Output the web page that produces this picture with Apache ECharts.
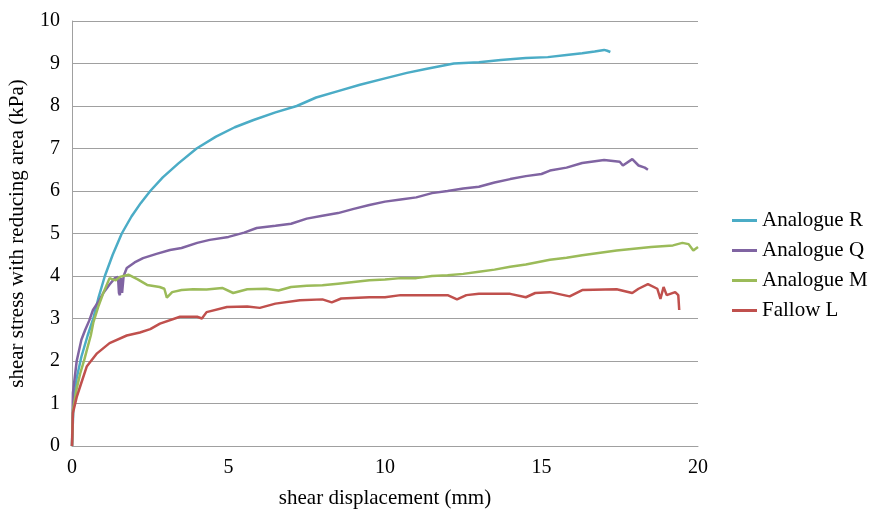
<!DOCTYPE html>
<html><head><meta charset="utf-8">
<script src="https://cdn.jsdelivr.net/npm/echarts@6/dist/echarts.min.js"></script>
<style>html,body{margin:0;padding:0;background:#fff}#c{width:870px;height:509px}</style>
</head><body><div id="c"></div>
<script>
const seriesNames = ['Analogue R', 'Analogue Q', 'Analogue M', 'Fallow L'];
const xTicks = [0, 5, 10, 15, 20];
const yTicks = [0,1,2,3,4,5,6,7,8,9,10];

const analogueR = [[0,0],[0.05,1.0],[0.15,1.6],[0.3,2.1],[0.5,2.6],[0.68,3.0],[0.85,3.5],[1.05,4.0],[1.3,4.5],[1.59,5.0],[1.9,5.4],[2.2,5.72],[2.5,6.0],[2.9,6.32],[3.4,6.65],[3.98,7.0],[4.6,7.28],[5.2,7.5],[5.8,7.67],[6.5,7.85],[7.18,8.0],[7.8,8.2],[8.5,8.35],[9.2,8.5],[10,8.65],[10.7,8.78],[11.3,8.87],[12.2,9.0],[13,9.03],[13.7,9.08],[14.5,9.13],[15.2,9.15],[15.8,9.2],[16.3,9.24],[16.7,9.28],[17.0,9.32],[17.1,9.3],[17.2,9.27]];

const analogueQ = [[0,0],[0.03,1.25],[0.15,2.0],[0.3,2.5],[0.42,2.73],[0.55,2.95],[0.67,3.2],[0.85,3.4],[1.0,3.6],[1.2,3.8],[1.37,3.95],[1.47,3.98],[1.5,3.6],[1.53,3.55],[1.56,3.95],[1.6,3.6],[1.65,4.0],[1.75,4.19],[2.0,4.32],[2.27,4.42],[2.7,4.52],[3.13,4.61],[3.5,4.66],[4.0,4.78],[4.4,4.85],[5.0,4.92],[5.5,5.02],[5.9,5.13],[6.5,5.18],[7,5.23],[7.5,5.35],[8,5.42],[8.5,5.48],[9,5.58],[9.5,5.67],[10,5.75],[10.5,5.8],[11,5.85],[11.5,5.95],[12,6.0],[12.5,6.06],[13,6.1],[13.5,6.2],[14,6.28],[14.5,6.35],[15,6.4],[15.27,6.48],[15.8,6.55],[16.3,6.66],[17.0,6.73],[17.5,6.69],[17.6,6.6],[17.9,6.75],[18.1,6.6],[18.3,6.55],[18.4,6.5]];

const analogueM = [[0,0],[0.03,0.85],[0.15,1.35],[0.26,1.7],[0.4,2.05],[0.5,2.33],[0.55,2.3],[0.6,2.6],[0.68,2.9],[0.85,3.3],[1.0,3.6],[1.2,3.95],[1.3,3.92],[1.4,3.9],[1.53,3.98],[1.8,4.03],[2.1,3.92],[2.4,3.79],[2.8,3.74],[2.95,3.7],[3.03,3.49],[3.2,3.62],[3.5,3.67],[3.87,3.69],[4.3,3.68],[4.8,3.72],[5.15,3.6],[5.6,3.69],[6.2,3.7],[6.6,3.66],[7.0,3.74],[7.5,3.77],[8,3.78],[8.5,3.82],[9,3.86],[9.5,3.9],[10,3.92],[10.5,3.95],[11,3.95],[11.5,4.0],[12,4.02],[12.5,4.05],[13,4.1],[13.5,4.15],[14,4.22],[14.5,4.27],[15.27,4.38],[15.8,4.43],[16.3,4.49],[17.4,4.6],[18.5,4.68],[19.2,4.72],[19.5,4.78],[19.7,4.75],[19.85,4.6],[20,4.68]];

const fallowL = [[0,0],[0.03,0.78],[0.15,1.15],[0.26,1.4],[0.47,1.87],[0.8,2.18],[1.2,2.42],[1.75,2.6],[2.17,2.67],[2.5,2.75],[2.81,2.88],[3.45,3.04],[4.0,3.04],[4.15,3.0],[4.3,3.15],[4.95,3.27],[5.6,3.28],[6.0,3.25],[6.5,3.35],[7.28,3.43],[8,3.45],[8.3,3.38],[8.6,3.47],[9.5,3.5],[10,3.5],[10.5,3.55],[11,3.55],[12,3.55],[12.3,3.45],[12.6,3.55],[13,3.58],[14,3.58],[14.5,3.5],[14.8,3.6],[15.27,3.62],[15.9,3.52],[16.3,3.67],[17.4,3.69],[17.9,3.6],[18.1,3.7],[18.4,3.81],[18.7,3.7],[18.8,3.46],[18.9,3.74],[19.0,3.55],[19.27,3.62],[19.37,3.55],[19.4,3.2]];

const colors = ['#4bacc6', '#8064a2', '#9bbb59', '#c0504d'];
const allData = [analogueR, analogueQ, analogueM, fallowL];
const font = 'Liberation Serif, Times New Roman, serif';

const chart = echarts.init(document.getElementById('c'));
chart.setOption({
  animation: false,
  backgroundColor: '#fff',
  color: colors,
  textStyle: { fontFamily: font, color: '#000' },
  grid: { left: 72, right: 172, top: 21, bottom: 63, containLabel: false, outerBoundsMode: 'none' },
  legend: {
    orient: 'vertical', left: 727, top: 205,
    icon: 'rect', itemWidth: 25, itemHeight: 3, itemGap: 9,
    textStyle: { fontFamily: font, fontSize: 21, color: '#000' },
    data: seriesNames
  },
  xAxis: {
    type: 'value', min: xTicks[0], max: xTicks[xTicks.length-1], interval: 5,
    name: 'shear displacement (mm)', nameLocation: 'middle', nameGap: 42,
    nameTextStyle: { fontFamily: font, fontSize: 21, color: '#000' },
    axisLine: { show: true, lineStyle: { color: '#a0a0a0', width: 1 } },
    axisTick: { show: false },
    splitLine: { show: false },
    axisLabel: { fontFamily: font, fontSize: 20, color: '#000', margin: 12 }
  },
  yAxis: {
    type: 'value', min: yTicks[0], max: yTicks[yTicks.length-1], interval: 1,
    name: 'shear stress with reducing area (kPa)', nameLocation: 'middle', nameGap: 44,
    nameTextStyle: { fontFamily: font, fontSize: 21, color: '#000' },
    axisLine: { show: true, lineStyle: { color: '#a0a0a0', width: 1 } },
    axisTick: { show: false },
    splitLine: { show: true, lineStyle: { color: '#a0a0a0', width: 1 } },
    axisLabel: { fontFamily: font, fontSize: 20, color: '#000', margin: 12 }
  },
  series: seriesNames.map((n, i) => ({
    name: n, type: 'line', data: allData[i], symbol: 'none', showSymbol: false,
    smooth: false, lineStyle: { width: 2.5, color: colors[i] }, itemStyle: { color: colors[i] }
  }))
});
</script></body></html>
